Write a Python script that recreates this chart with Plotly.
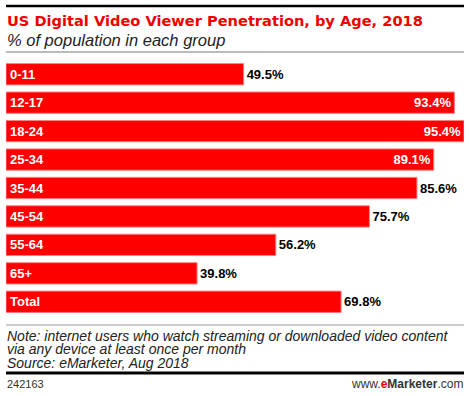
import plotly.graph_objects as go

categories = ["0-11", "12-17", "18-24", "25-34", "35-44", "45-54", "55-64", "65+", "Total"]
values = [49.5, 93.4, 95.4, 89.1, 85.6, 75.7, 56.2, 39.8, 69.8]

title = "US Digital Video Viewer Penetration, by Age, 2018"
subtitle = "% of population in each group"
note_lines = [
    "Note: internet users who watch streaming or downloaded video content",
    "via any device at least once per month",
    "Source: eMarketer, Aug 2018",
]
chart_id = "242163"

W, H = 470, 396
L, R, T, B = 6, 6, 60, 80
PH = H - T - B
PW = W - L - R

RED = "#ff0000"

def py(p):
    return (H - B - p) / PH

def pxx(p):
    return (p - L) / PW

inside = [v >= 88 for v in values]
fig = go.Figure()
fig.add_trace(go.Bar(
    x=values, y=categories, orientation="h",
    marker=dict(color=RED, line=dict(color="#ff8080", width=1)),
    text=[f"{v:.1f}%" for v in values],
    textposition=["inside" if i else "outside" for i in inside],
    insidetextanchor="end",
    textfont=dict(family="Liberation Sans", size=13, weight="bold",
                  color=["white" if i else "black" for i in inside]),
    constraintext="none", cliponaxis=False, hoverinfo="skip",
))

annotations = []
for c in categories:
    annotations.append(dict(x=0, y=c, xref="x", yref="y", text=c, showarrow=False,
                            xanchor="left", yanchor="middle", xshift=2,
                            font=dict(family="Liberation Sans", size=13, color="white", weight="bold")))

annotations.append(dict(x=pxx(5), y=py(20.5), xref="paper", yref="paper", text=title,
                        showarrow=False, xanchor="left", yanchor="middle",
                        font=dict(family="DejaVu Sans", size=14.6, color="#ee0000", weight="bold")))
annotations.append(dict(x=pxx(5), y=py(39.5), xref="paper", yref="paper", text=f"<i>{subtitle}</i>",
                        showarrow=False, xanchor="left", yanchor="middle",
                        font=dict(family="Liberation Sans", size=16.5, color="#222222")))
for i, line in enumerate(note_lines):
    annotations.append(dict(x=pxx(5), y=py(335.5 + i * 13.5), xref="paper", yref="paper",
                            text=f"<i>{line}</i>", showarrow=False, xanchor="left", yanchor="middle",
                            font=dict(family="Liberation Sans", size=14, color="#222222")))
annotations.append(dict(x=pxx(5), y=py(384), xref="paper", yref="paper", text=chart_id,
                        showarrow=False, xanchor="left", yanchor="middle",
                        font=dict(family="Liberation Sans", size=11, color="#333333")))
annotations.append(dict(x=pxx(465), y=py(384), xref="paper", yref="paper",
                        text="www.<b><span style='color:#ee0000'>e</span>Marketer</b>.com",
                        showarrow=False, xanchor="right", yanchor="middle",
                        font=dict(family="Liberation Sans", size=12, color="#333333")))

shapes = [
    dict(type="line", xref="paper", yref="paper", x0=pxx(6), x1=pxx(464), y0=py(6), y1=py(6),
         line=dict(color="black", width=2.5)),
    dict(type="line", xref="paper", yref="paper", x0=pxx(6), x1=pxx(464), y0=py(52), y1=py(52),
         line=dict(color="#777777", width=1)),
    dict(type="line", xref="paper", yref="paper", x0=pxx(6), x1=pxx(464), y0=py(325), y1=py(325),
         line=dict(color="#999999", width=1)),
    dict(type="line", xref="paper", yref="paper", x0=pxx(6), x1=pxx(464), y0=py(373), y1=py(373),
         line=dict(color="black", width=3)),
]

fig.update_layout(
    width=W, height=H, margin=dict(l=L, r=R, t=T, b=B),
    paper_bgcolor="white", plot_bgcolor="white",
    showlegend=False, bargap=0.25,
    xaxis=dict(range=[0, 95.4], visible=False, fixedrange=True),
    yaxis=dict(autorange="reversed", visible=False, fixedrange=True),
    annotations=annotations, shapes=shapes,
)

fig.write_html("out.html", config={"displayModeBar": False},
               post_script="document.body.style.margin='0';document.body.style.overflow='hidden';")
